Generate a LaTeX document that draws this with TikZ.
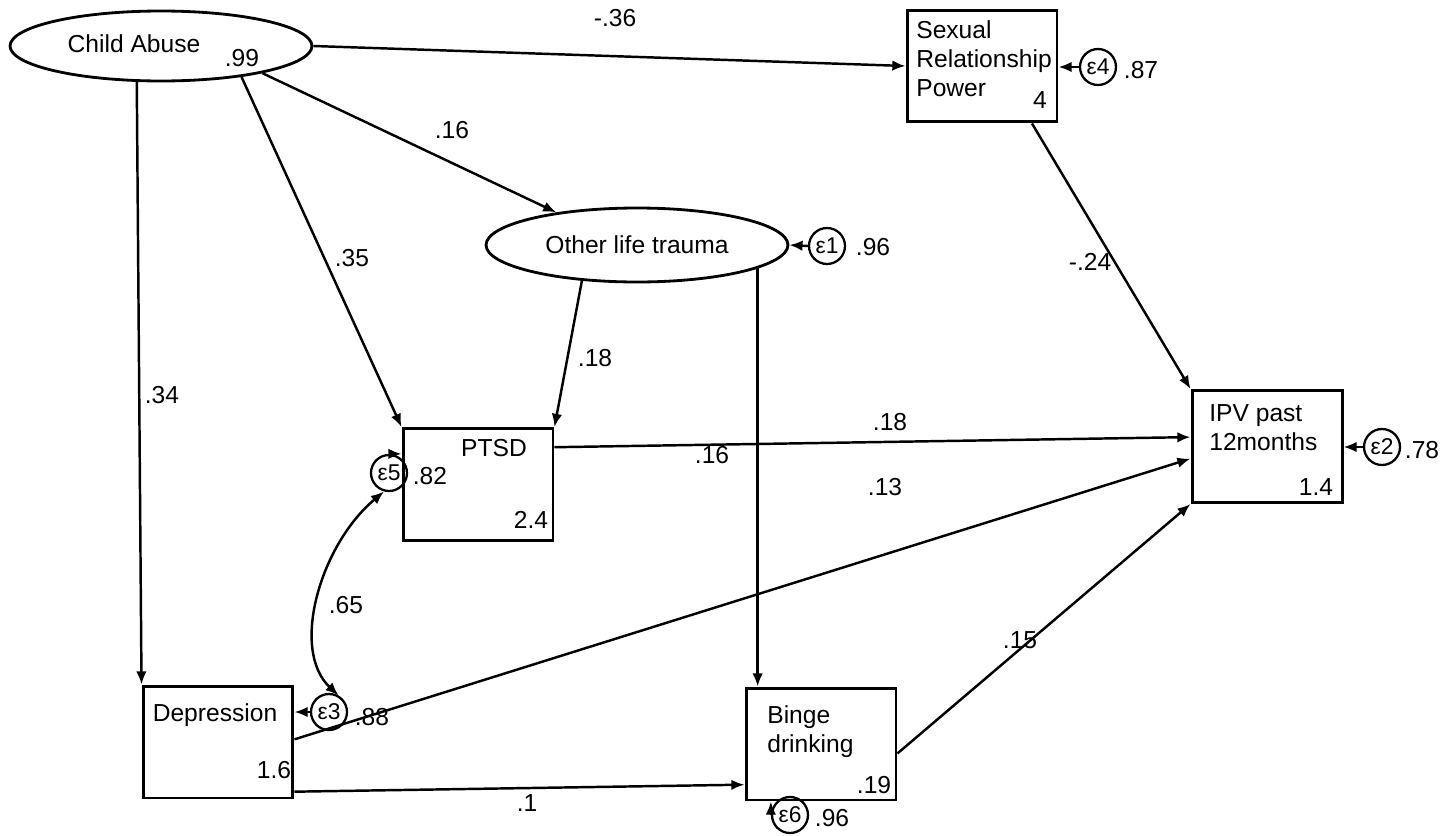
\documentclass[tikz,border=0pt]{standalone}
\usepackage{fontspec}
\setmainfont{Liberation Sans}
\usetikzlibrary{shapes.geometric,arrows.meta}

\begin{document}
\begin{tikzpicture}[
    x=0.02cm,
    y=-0.02cm,
    font=\fontsize{14pt}{16.7pt}\selectfont,
    latent/.style={
        draw,
        ellipse,
        line width=1.6pt,
        minimum width=6.04cm,
        minimum height=1.4cm,
        inner sep=0pt
    },
    observed/.style={
        draw,
        rectangle,
        line width=1.7pt,
        minimum width=3cm,
        minimum height=2.24cm,
        inner sep=0pt
    },
    errterm/.style={
        draw,
        circle,
        line width=1.3pt,
        minimum size=0.72cm,
        inner sep=0pt,
        font=\fontsize{13pt}{14pt}\selectfont
    },
    txt/.style={
        inner sep=0pt,
        align=left
    },
    coef/.style={
        inner sep=0pt
    },
    path/.style={
        -{Latex[length=7.5pt,width=6pt]},
        line width=1.4pt
    },
    cov/.style={
        {Latex[length=7.5pt,width=6pt]}-{Latex[length=7.5pt,width=6pt]},
        line width=1.4pt
    }
]

\useasboundingbox (0,0) rectangle (1452,835);

% latent variables
\node[latent] (abuse) at (161,46) {};
\node[txt] (abuse-t) at (134,44) {Child Abuse};
\node[coef] (abuse-v) at (242,58) {.99};

\node[latent, minimum height=1.48cm] (trauma) at (637,245) {Other life trauma};

% observed variables
\node[observed] (srp) at (982,66) {};
\node[txt, anchor=north west] (srp-t) at (916,20)
{
    Sexual\\
    Relationship\\
    Power
};
\node[coef] (srp-v) at (1040,100) {4};

\node[observed] (ptsd) at (478,484.5) {};
\node[txt] (ptsd-t) at (494,448) {PTSD};
\node[coef] (ptsd-v) at (531,520) {2.4};

\node[observed] (dep) at (218,742) {};
\node[txt] (dep-t) at (215,715) {Depression};
\node[coef] (dep-v) at (274,770) {1.6};

\node[observed] (binge) at (821,744) {};
\node[txt, anchor=north west] (binge-t) at (767,705)
{
    Binge\\
    drinking
};
\node[coef] (binge-v) at (874,785) {.19};

\node[observed] (ipv) at (1267,446.5) {};
\node[txt, anchor=north west] (ipv-t) at (1209,404)
{
    IPV past\\
    12months
};
\node[coef] (ipv-v) at (1316,487) {1.4};

% error terms
\node[errterm] (e1) at (827,246) {ε1};
\node[coef] (e1-v) at (873,247) {.96};

\node[errterm] (e4) at (1098,67) {ε4};
\node[coef] (e4-v) at (1141,70) {.87};

\node[errterm] (e5) at (389,473) {ε5};
\node[coef] (e5-v) at (430,476) {.82};

\node[errterm] (e3) at (329,712) {ε3};
\node[coef] (e3-v) at (372,717) {.88};

\node[errterm] (e6) at (790,815) {ε6};
\node[coef] (e6-v) at (832,818) {.96};

\node[errterm] (e2) at (1382,447) {ε2};
\node[coef] (e2-v) at (1422,450) {.78};

% structural paths
\draw[path] (abuse.east) -- (srp.west);
\draw[path] (abuse.-15) -- (trauma.158.7);
\draw[path] (abuse.-21.3) -- (ptsd.north west);
\draw[path] (abuse.-124) -- (dep.north west);

\draw[path] (trauma.-147) -- (ptsd.north east);
\draw[path] (trauma.-11.5) -- (trauma.-11.5 |- binge.north);

\draw[path] (srp.-49.4) -- (ipv.north west);
\draw[path] (ptsd.26) -- (ipv.173.5);
\draw[path] (dep.2) -- (ipv.189.5);
\draw[path] (binge.-7) -- (ipv.south west);
\draw[path] (dep.-33.7) -- (binge.208.7);

% errors
\draw[path] (e1.west) -- (trauma.east);
\draw[path] (e4.west) -- (e4.west -| srp.east);
\draw[path] (e2.west) -- (e2.west -| ipv.east);
\draw[path] (e3.west) -- (e3.west -| dep.east);
\draw[path] (e5.north) -- (e5.north -| ptsd.west);
\draw[path] (e6.west) -- (e6.west |- binge.south);

\draw[cov] (e5.-105) .. controls (320,545) and (290,650) .. (e3.60);

% coefficients
\node[coef] (c-srp) at (615,18) {-.36};
\node[coef] (c-trauma) at (452,130) {.16};
\node[coef] (c-ptsd) at (352,258) {.35};
\node[coef] (c-dep) at (162,395) {.34};
\node[coef] (c-tp) at (595,358) {.18};
\node[coef] (c-tb) at (712,455) {.16};
\node[coef] (c-si) at (1090,262) {-.24};
\node[coef] (c-pi) at (890,422) {.18};
\node[coef] (c-di) at (885,487) {.13};
\node[coef] (c-bi) at (1020,640) {.15};
\node[coef] (c-db) at (527,803) {.1};
\node[coef] (c-cov) at (346,605) {.65};

\end{tikzpicture}
\end{document}
